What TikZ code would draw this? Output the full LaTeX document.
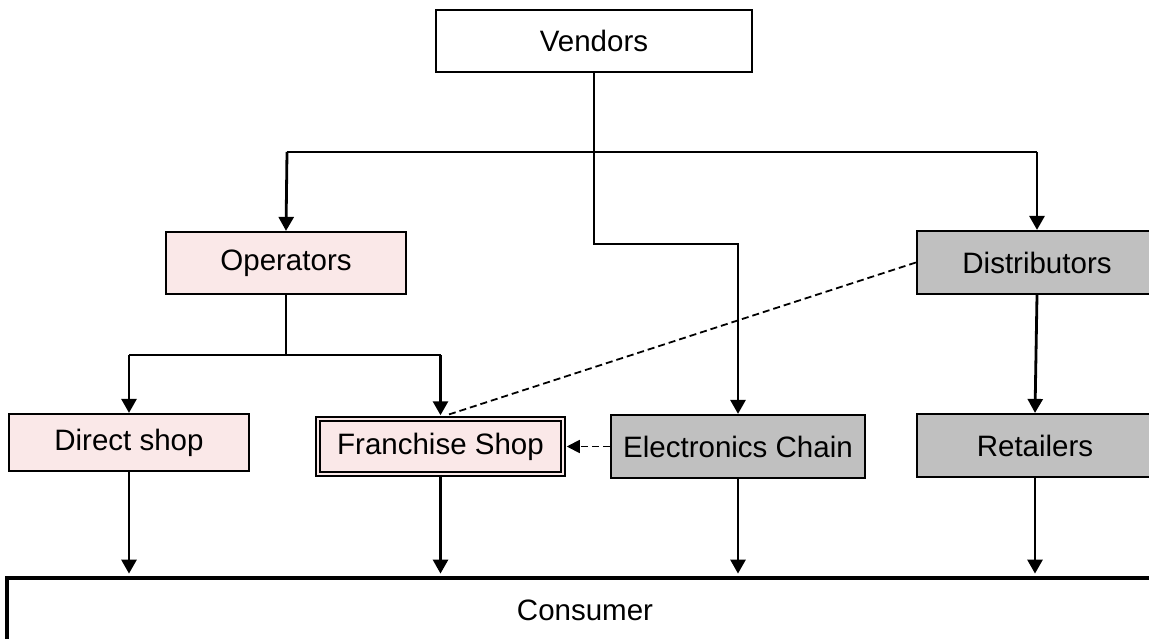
\documentclass[tikz,border=0pt]{standalone}
\usepackage{fontspec}
\setmainfont{Liberation Sans}
\usetikzlibrary{arrows.meta,calc}
\definecolor{shoppink}{RGB}{250,232,232}
\definecolor{boxgray}{RGB}{192,192,192}

\begin{document}
\begin{tikzpicture}[x=1pt,y=-1pt,
  box/.style={draw, line width=2.2pt, inner sep=0pt, minimum width=240pt,
    minimum height=62pt, font=\fontsize{29.5}{34}\selectfont},
  pinkbox/.style={box, fill=shoppink},
  graybox/.style={box, fill=boxgray},
  conn/.style={line width=2.8pt},
  arr/.style={conn, -{Triangle[length=14pt,width=15pt]}},
  dashconn/.style={line width=1.8pt, dash pattern=on 7pt off 4pt},
]
\clip (0,0) rectangle (1149,639);

% boxes
\node[box, minimum width=316pt] (vendors) at (594,41) {Vendors};
\node[pinkbox] (operators) at (286,263) {Operators};
\node[graybox, minimum height=63pt] (distributors) at (1037,262.5) {Distributors};
\node[pinkbox, minimum height=57pt] (direct) at (129,442.5) {Direct shop};
\node[pinkbox, minimum width=245pt, minimum height=55pt, line width=1.5pt,
      double=shoppink, double distance=2.6pt] (franchise) at (440.5,446.5) {Franchise Shop};
\node[graybox, minimum width=254pt, minimum height=63pt] (electronics) at (738,446.5) {Electronics Chain};
\node[graybox, minimum width=236pt, minimum height=63pt] (retailers) at (1035,445.5) {Retailers};
\node[box, line width=4.8pt, minimum width=1156pt, minimum height=64pt] (consumer) at (585,610) {Consumer};

% vendor tree
\coordinate (busL) at (287,152);
\coordinate (busR) at (1037,152);
\coordinate (bend) at (738,244);
\draw[conn] (busL) -- (busR);
\draw[arr] (busL) -- (operators.north);
\draw[arr] (busR) -- (distributors.north);
\draw[arr] (vendors.south) |- (bend) -- (electronics.north);

% operator tree
\coordinate (opL) at (129,355);
\coordinate (opR) at (440.5,355);
\draw[conn] (operators.south) -- (operators.south |- opL);
\draw[conn] (opL) -- (opR);
\draw[arr] (opL) -- (direct.north);
\draw[arr] (opR) -- ($(franchise.north)+(0,-3)$);

% distributor links
\draw[arr] (distributors.south) -- (retailers.north);
\draw[dashconn] (distributors.west) -- ($(franchise.north)+(6,-3)$);
\draw[dashconn, -{Triangle[length=13pt,width=13pt]}] (electronics.west) -- ($(franchise.east)+(3,0)$);

% into the consumer bar
\foreach \src in {direct, franchise, electronics, retailers}
  \draw[arr] (\src.south) -- ($(\src.south |- consumer.north)+(0,-2)$);
\end{tikzpicture}
\end{document}
